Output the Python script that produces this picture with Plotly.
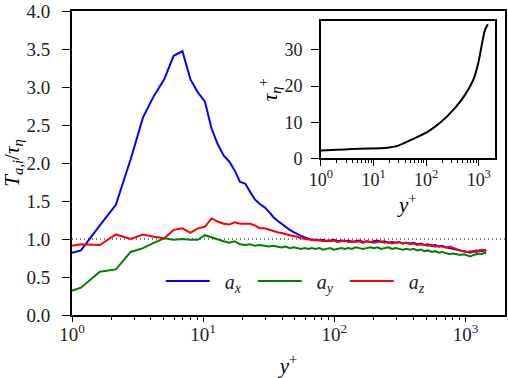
import plotly.graph_objects as go

# ---- main panel data (y+ vs T_{a,i}/tau_eta) ----
yplus_inner = [1.0, 1.17, 1.63, 2.16, 2.8, 3.48, 4.2, 5.05, 5.95, 6.95, 8.0, 9.1, 10.3, 11.6,
               12.9, 14.3, 15.8, 17.4, 19.1, 20.9, 22.8, 24.8, 27.0, 29.3, 31.7, 34.2, 36.9,
               39.7, 42.6, 45.7, 48.9, 52.3, 55.8, 59.5, 63.4, 67.4]
ax_inner = [0.82, 0.85, 1.18, 1.45, 2.05, 2.60, 2.88, 3.10, 3.41, 3.47, 3.10, 2.93, 2.81, 2.45,
            2.25, 2.10, 2.02, 1.90, 1.75, 1.73, 1.62, 1.52, 1.46, 1.42, 1.36, 1.29, 1.24,
            1.20, 1.15, 1.12, 1.09, 1.06, 1.04, 1.02, 1.00, 0.99]
ay_inner = [0.32, 0.36, 0.57, 0.60, 0.83, 0.88, 0.95, 1.01, 0.99, 1.00, 0.99, 0.99, 1.05, 1.02,
            0.99, 0.97, 0.95, 0.97, 0.93, 0.92, 0.93, 0.91, 0.92, 0.91, 0.90, 0.91, 0.90,
            0.89, 0.90, 0.88, 0.89, 0.88, 0.87, 0.88, 0.87, 0.88]
az_inner = [0.91, 0.93, 0.92, 1.06, 1.00, 1.06, 1.03, 1.01, 1.12, 1.14, 1.08, 1.14, 1.16, 1.27,
            1.23, 1.20, 1.19, 1.22, 1.20, 1.20, 1.20, 1.18, 1.14, 1.14, 1.12, 1.10, 1.09,
            1.08, 1.06, 1.05, 1.04, 1.03, 1.01, 1.00, 0.99, 0.99]

yplus_outer = [72, 77, 82, 87, 93, 99, 106, 113, 120, 128, 136, 145, 155, 165, 176, 188, 200,
               213, 227, 242, 258, 275, 293, 312, 332, 354, 377, 402, 428, 456, 486, 518, 552,
               588, 626, 667, 710, 756, 805, 857, 912, 970, 1030, 1090, 1150, 1210, 1270, 1330,
               1390, 1440]
ax_outer = [0.99, 0.98, 0.99, 0.97, 0.98, 0.99, 0.97, 0.98, 0.97, 0.98, 0.96, 0.97, 0.98, 0.96,
            0.97, 0.96, 0.97, 0.98, 0.96, 0.97, 0.95, 0.96, 0.95, 0.96, 0.94, 0.95, 0.94, 0.95,
            0.93, 0.94, 0.92, 0.93, 0.91, 0.92, 0.90, 0.91, 0.89, 0.88, 0.87, 0.86, 0.85, 0.84,
            0.83, 0.82, 0.84, 0.83, 0.85, 0.84, 0.85, 0.84]
ay_outer = [0.87, 0.88, 0.86, 0.87, 0.88, 0.86, 0.87, 0.88, 0.87, 0.88, 0.87, 0.89, 0.88, 0.87,
            0.88, 0.89, 0.88, 0.89, 0.87, 0.88, 0.89, 0.87, 0.88, 0.87, 0.86, 0.87, 0.86, 0.87,
            0.85, 0.86, 0.84, 0.85, 0.83, 0.84, 0.82, 0.83, 0.82, 0.80, 0.81, 0.80, 0.79, 0.80,
            0.78, 0.77, 0.79, 0.80, 0.81, 0.80, 0.82, 0.81]
az_outer = [0.98, 0.99, 0.97, 0.98, 0.97, 0.98, 0.96, 0.97, 0.98, 0.96, 0.97, 0.96, 0.97, 0.95,
            0.97, 0.96, 0.95, 0.96, 0.97, 0.95, 0.96, 0.94, 0.95, 0.96, 0.94, 0.95, 0.93, 0.94,
            0.92, 0.93, 0.92, 0.91, 0.92, 0.90, 0.91, 0.90, 0.89, 0.90, 0.88, 0.87, 0.85, 0.84,
            0.83, 0.84, 0.83, 0.85, 0.84, 0.86, 0.85, 0.86]

# ---- inset data (y+ vs tau_eta+) ----
yplus_inset = [1.0, 2.0, 3.87, 8.0, 16.6, 29.6, 53, 110, 196, 351, 543, 778, 973, 1120, 1300, 1450, 1500]
tau_inset = [2.2, 2.4, 2.6, 2.75, 2.9, 3.55, 5.2, 7.5, 10.2, 13.9, 17.5, 21.6, 26.2, 30.8, 35.3, 36.8, 37.1]

series_names = ["&nbsp;&nbsp;<i>a</i><sub><i>x</i></sub>",
                "&nbsp;&nbsp;<i>a</i><sub><i>y</i></sub>",
                "&nbsp;&nbsp;<i>a</i><sub><i>z</i></sub>"]
series_colors = ["#0000ff", "#008000", "#ff0000"]
log_tickvals = [1, 10, 100, 1000]
log_ticktext = ["10<sup>0</sup>", "10<sup>1</sup>", "10<sup>2</sup>", "10<sup>3</sup>"]
minor_vals = [m * d for d in (1, 10, 100) for m in range(2, 10)]

FONT = "Liberation Serif, serif"
yplus_all = yplus_inner + yplus_outer
series_vals = [ax_inner + ax_outer, ay_inner + ay_outer, az_inner + az_outer]

fig = go.Figure()
for name, col, vals in zip(series_names, series_colors, series_vals):
    fig.add_trace(go.Scatter(x=yplus_all, y=vals, mode="lines", name=name,
                             line=dict(color=col, width=2), xaxis="x", yaxis="y"))

fig.add_trace(go.Scatter(x=yplus_inset, y=tau_inset, mode="lines", showlegend=False,
                         line=dict(color="black", width=2, shape="spline", smoothing=0.6),
                         xaxis="x2", yaxis="y2"))

fig.add_shape(type="line", xref="paper", yref="y", x0=0, x1=1, y0=1.0, y1=1.0,
              line=dict(color="black", width=1, dash="1px,3px"), layer="below")

axis_common = dict(showgrid=False, zeroline=False, showline=True, linecolor="black",
                   ticks="outside", tickcolor="black", tickwidth=1.2, mirror=True,
                   ticklabeloverflow="allow")

main_tick = dict(family=FONT, size=19, color="#222")
inset_tick = dict(family=FONT, size=18, color="#222")
title_font = dict(family=FONT, size=21, color="black")

fig.update_layout(
    width=508, height=378,
    margin=dict(l=72, r=1, t=9, b=63),
    paper_bgcolor="white", plot_bgcolor="white",
    font=dict(family=FONT, size=19, color="black"),
    xaxis=dict(type="log", range=[0, 3.301], tickvals=log_tickvals, ticktext=log_ticktext,
               ticklen=5, linewidth=2, tickfont=main_tick, ticklabelstandoff=-4,
               minor=dict(ticks="outside", ticklen=3, tickvals=minor_vals, tickcolor="black"),
               title=dict(text="<i>y</i><sup>+</sup>", font=title_font, standoff=15),
               **axis_common),
    yaxis=dict(range=[0, 4], dtick=0.5, tickformat=".1f", ticklen=8, linewidth=2,
               tickfont=main_tick, ticklabelstandoff=8,
               title=dict(text="<i>T</i><sub><i>a,i</i></sub>/<i>τ</i><sub><i>η</i></sub>",
                          font=title_font, standoff=0),
               **axis_common),
    xaxis2=dict(type="log", range=[0, 3.301], domain=[0.575, 0.976], anchor="y2",
                tickvals=log_tickvals, ticktext=log_ticktext, ticklen=6, linewidth=1.8,
                tickfont=inset_tick, ticklabelstandoff=-2,
                minor=dict(ticks="outside", ticklen=3, tickvals=minor_vals, tickcolor="black"),
                title=dict(text="<i>y</i><sup>+</sup>", font=title_font, standoff=0),
                **axis_common),
    yaxis2=dict(range=[0, 38], domain=[0.515, 0.967], anchor="x2", tickvals=[0, 10, 20, 30],
                ticklen=8, linewidth=1.8, tickfont=inset_tick, ticklabelstandoff=5,
                title=dict(text="<i>τ</i><sub><i>η</i></sub><sup>+</sup>",
                           font=title_font, standoff=0),
                **axis_common),
    legend=dict(orientation="h", x=0.205, y=0.112, xanchor="left", yanchor="middle",
                bgcolor="rgba(0,0,0,0)", font=dict(family=FONT, size=20, color="#222"),
                entrywidth=33, entrywidthmode="pixels", itemwidth=44, tracegroupgap=0),
)

# nudge the main y title a little toward the tick labels (as in the reference)
fig.update_yaxes(title_standoff=0, selector=dict(anchor="x"))
fig.layout.yaxis.title.standoff = 0
fig.layout.margin.l = 72

fig.write_html("out.html")
